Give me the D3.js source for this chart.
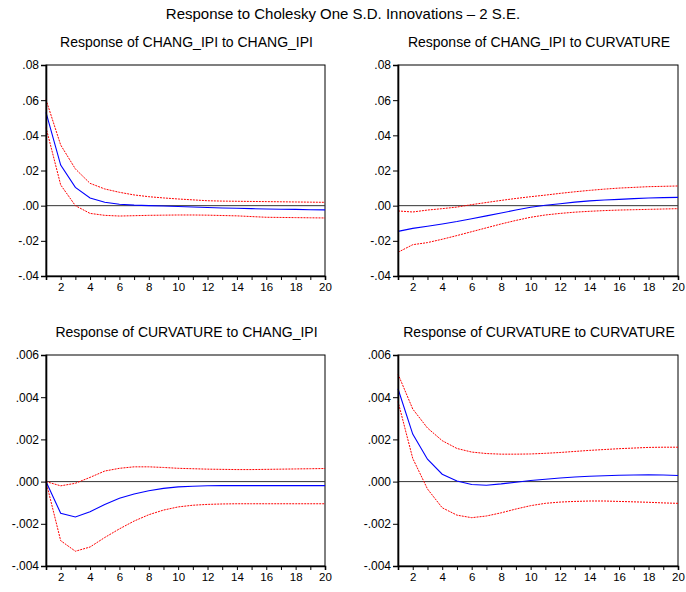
<!DOCTYPE html>
<html><head><meta charset="utf-8">
<script src="https://cdn.jsdelivr.net/npm/d3@7/dist/d3.min.js"></script>
<style>body{margin:0;background:#fff}svg{display:block}text{font-family:"Liberation Sans",Arial,sans-serif}</style>
</head><body>
<svg id="c" width="686" height="592"></svg>
<script>
const periods = d3.range(1, 21);
const mainTitle = "Response to Cholesky One S.D. Innovations \u2013 2 S.E.";
const panelTitles = ["Response of CHANG_IPI to CHANG_IPI","Response of CHANG_IPI to CURVATURE","Response of CURVATURE to CHANG_IPI","Response of CURVATURE to CURVATURE"];
const yTicksTop = [-0.04,-0.02,0,0.02,0.04,0.06,0.08];
const yTicksBottom = [-0.004,-0.002,0,0.002,0.004,0.006];
const xTickLabels = [2,4,6,8,10,12,14,16,18,20];

// Panel 1: CHANG_IPI to CHANG_IPI
const p1Resp  = [0.0531,0.0231,0.0104,0.0044,0.0019,0.0008,0.0003,0.0000,-0.0002,-0.0005,-0.0008,-0.0010,-0.0013,-0.0015,-0.0017,-0.0019,-0.0020,-0.0021,-0.0023,-0.0024];
const p1Upper = [0.0603,0.0345,0.0209,0.0127,0.0095,0.0076,0.0061,0.0051,0.0044,0.0038,0.0033,0.0028,0.0026,0.0025,0.0024,0.0023,0.0022,0.0021,0.0020,0.0019];
const p1Lower = [0.0445,0.0118,0.0000,-0.0044,-0.0055,-0.0059,-0.0057,-0.0055,-0.0054,-0.0053,-0.0053,-0.0054,-0.0056,-0.0058,-0.0062,-0.0066,-0.0067,-0.0068,-0.0069,-0.0070];
// Panel 2: CHANG_IPI to CURVATURE
const p2Resp  = [-0.0146,-0.0129,-0.0117,-0.0104,-0.0090,-0.0074,-0.0058,-0.0042,-0.0025,-0.0009,0.0002,0.0011,0.0020,0.0027,0.0032,0.0036,0.0040,0.0044,0.0046,0.0047];
const p2Upper = [-0.0030,-0.0036,-0.0025,-0.0017,-0.0008,0.0006,0.0018,0.0030,0.0041,0.0051,0.0060,0.0070,0.0079,0.0087,0.0094,0.0100,0.0104,0.0108,0.0110,0.0112];
const p2Lower = [-0.0265,-0.0222,-0.0210,-0.0191,-0.0170,-0.0148,-0.0126,-0.0104,-0.0084,-0.0066,-0.0053,-0.0044,-0.0037,-0.0032,-0.0028,-0.0025,-0.0023,-0.0021,-0.0019,-0.0017];
// Panel 3: CURVATURE to CHANG_IPI
const p3Resp  = [0,-0.00150,-0.00168,-0.00143,-0.00108,-0.00079,-0.00059,-0.00043,-0.00032,-0.00025,-0.00022,-0.00020,-0.00019,-0.00019,-0.00019,-0.00019,-0.00019,-0.00019,-0.00019,-0.00019];
const p3Upper = [0,-0.00020,-0.00008,0.00020,0.00050,0.00063,0.00070,0.00070,0.00067,0.00063,0.00061,0.00059,0.00058,0.00057,0.00057,0.00058,0.00059,0.00060,0.00061,0.00062];
const p3Lower = [0,-0.00280,-0.00330,-0.00310,-0.00265,-0.00224,-0.00187,-0.00157,-0.00135,-0.00120,-0.00112,-0.00108,-0.00106,-0.00105,-0.00105,-0.00105,-0.00105,-0.00105,-0.00105,-0.00105];
// Panel 4: CURVATURE to CURVATURE
const p4Resp  = [0.00440,0.00225,0.00106,0.00035,0.00003,-0.00014,-0.00017,-0.00011,-0.00003,0.00005,0.00011,0.00017,0.00022,0.00025,0.00028,0.00030,0.00031,0.00032,0.00031,0.00029];
const p4Upper = [0.00510,0.00344,0.00254,0.00194,0.00157,0.00140,0.00133,0.00130,0.00130,0.00131,0.00134,0.00138,0.00143,0.00148,0.00152,0.00156,0.00159,0.00162,0.00163,0.00163];
const p4Lower = [0.00380,0.00110,-0.00035,-0.00124,-0.00159,-0.00171,-0.00163,-0.00148,-0.00130,-0.00114,-0.00103,-0.00097,-0.00094,-0.00092,-0.00092,-0.00094,-0.00096,-0.00098,-0.00101,-0.00103];

const panels = [
  {title: panelTitles[0], resp: p1Resp, upper: p1Upper, lower: p1Lower, ticks: yTicksTop, x0: 46, x1: 325, y0: 65, y1: 276},
  {title: panelTitles[1], resp: p2Resp, upper: p2Upper, lower: p2Lower, ticks: yTicksTop, x0: 398, x1: 678, y0: 65, y1: 276},
  {title: panelTitles[2], resp: p3Resp, upper: p3Upper, lower: p3Lower, ticks: yTicksBottom, x0: 46, x1: 325, y0: 355, y1: 566},
  {title: panelTitles[3], resp: p4Resp, upper: p4Upper, lower: p4Lower, ticks: yTicksBottom, x0: 398, x1: 678, y0: 355, y1: 566}
];

const svg = d3.select("#c");
svg.append("text").attr("x", 343).attr("y", 19).attr("text-anchor","middle")
  .attr("font-size", 15).attr("fill","#000").text(mainTitle);

function tickLabel(v, digits) {
  const s = Math.abs(v).toFixed(digits).replace(/^0/, "");
  return (v < 0 ? "-" : "") + s;
}

panels.forEach((p, i) => {
  const x = d3.scaleLinear().domain([1, 20]).range([p.x0, p.x1]);
  const y = d3.scaleLinear().domain([p.ticks[0], p.ticks[p.ticks.length-1]]).range([p.y1, p.y0]);
  const digits = i < 2 ? 2 : 3;
  const g = svg.append("g");

  g.append("text").attr("x", (p.x0 + p.x1) / 2 + 1).attr("y", p.y0 - 18).attr("text-anchor","middle")
    .attr("font-size", 14).attr("fill","#000").text(p.title);

  // frame
  g.append("rect").attr("x", p.x0).attr("y", p.y0).attr("width", p.x1 - p.x0).attr("height", p.y1 - p.y0)
    .attr("fill","none").attr("stroke","#000").attr("stroke-width",1);

  // zero line
  g.append("line").attr("x1", p.x0).attr("x2", p.x1).attr("y1", y(0)).attr("y2", y(0))
    .attr("stroke","#333").attr("stroke-width",1);

  const line = d3.line().x((d, k) => x(periods[k])).y(d => y(d));
  g.append("path").attr("d", line(p.upper)).attr("fill","none").attr("stroke","#ff0000").attr("stroke-width",1).attr("stroke-dasharray","2,1");
  g.append("path").attr("d", line(p.lower)).attr("fill","none").attr("stroke","#ff0000").attr("stroke-width",1).attr("stroke-dasharray","2,1");
  g.append("path").attr("d", line(p.resp)).attr("fill","none").attr("stroke","#0000ff").attr("stroke-width",1.1);

  // y axis
  const ya = d3.axisLeft(y).tickValues(p.ticks).tickSize(5).tickPadding(2).tickFormat(v => tickLabel(v, digits));
  const yg = g.append("g").attr("transform", `translate(${p.x0},0)`).call(ya);
  yg.select(".domain").attr("stroke","#000").attr("stroke-width",1.6);
  yg.selectAll("text").attr("font-size", 12).attr("fill","#000").attr("font-family","Liberation Sans, Arial, sans-serif");

  // x axis
  const xa = d3.axisBottom(x).tickValues(periods).tickSize(4).tickPadding(3)
    .tickFormat(v => xTickLabels.includes(v) ? String(v) : "");
  const xg = g.append("g").attr("transform", `translate(0,${p.y1})`).call(xa);
  xg.select(".domain").attr("stroke","#000").attr("stroke-width",1.6);
  xg.selectAll("text").attr("font-size", 11.5).attr("fill","#000").attr("font-family","Liberation Sans, Arial, sans-serif");
});
</script>
</body></html>
